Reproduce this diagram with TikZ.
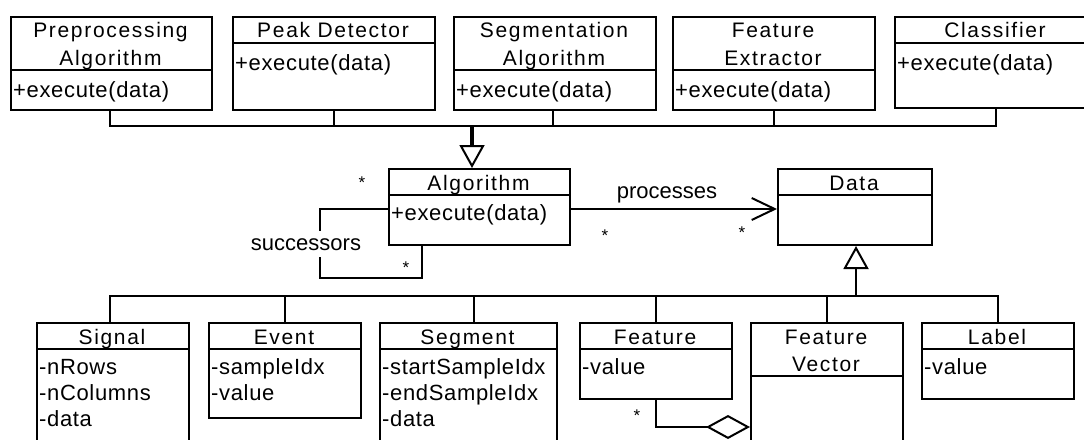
\documentclass[tikz,border=0pt]{standalone}
\usepackage{fontspec}
\setmainfont{Liberation Sans}
\newfontfamily\hdrfont{Liberation Sans}[LetterSpace=8]
\newfontfamily\bodyfont{Liberation Sans}[LetterSpace=3]
\usetikzlibrary{arrows.meta}

\tikzset{
  cls/.style={draw, line width=2pt, rectangle, inner sep=0pt, fill=white},
  div/.style={line width=2pt},
  conn/.style={line width=2pt},
  hdr/.style={font=\hdrfont\fontsize{21}{24}\selectfont, inner sep=0pt, anchor=base},
  attr/.style={font=\bodyfont\fontsize{22}{26}\selectfont, inner sep=0pt, anchor=base west},
  mult/.style={font=\fontsize{17}{18}\selectfont, inner sep=0pt, anchor=north},
  lbl/.style={font=\fontsize{22}{26}\selectfont, inner sep=0pt, anchor=base},
  generalization/.style={-{Triangle[open, length=23pt, width=25pt, line width=2pt]}},
  navigable/.style={-{Straight Barb[length=23pt, width=22pt]}},
  aggregation/.style={-{Diamond[open, length=44pt, width=24pt]}},
}

% class box: name, left, top, right, bottom, y of the header rule
\newcommand\classbox[6]{%
  \node[cls, anchor=north west, minimum width={(#4)-(#2)}, minimum height={(#5)-(#3)}] (#1) at (#2,#3) {};
  \draw[div] (#2,#6) -- (#4,#6);
}

\begin{document}
\begin{tikzpicture}[x=1pt, y=-1pt]
\useasboundingbox (0,0) rectangle (1084,439);
\clip (0,0) rectangle (1084,439);

% ---- algorithm classes ----
\classbox{pp}{10}{16}{211}{109}{70}
\node[hdr] at (110.5,37) {Preprocessing};
\node[hdr] at (110.5,65) {Algorithm};
\node[attr] at (13,97) {+execute(data)};

\classbox{pd}{232}{16}{434}{109}{43}
\node[hdr] at (333,37) {Peak Detector};
\node[attr] at (235,70) {+execute(data)};

\classbox{seg}{453}{16}{655}{109}{70}
\node[hdr] at (554,37) {Segmentation};
\node[hdr] at (554,65) {Algorithm};
\node[attr] at (456,97) {+execute(data)};

\classbox{fe}{672}{16}{874}{109}{70}
\node[hdr] at (773,37) {Feature};
\node[hdr] at (773,65) {Extractor};
\node[attr] at (675,97) {+execute(data)};

\classbox{cl}{894}{16}{1096}{107}{43}
\node[hdr] at (995,37) {Classifier};
\node[attr] at (897,70) {+execute(data)};

% ---- core classes ----
\classbox{alg}{388}{168}{569}{244}{195}
\node[hdr] at (478.5,190) {Algorithm};
\node[attr] at (391,220) {+execute(data)};

\classbox{data}{777}{168}{931}{244}{195}
\node[hdr] at (854,190) {Data};

% ---- data classes ----
\classbox{sig}{36}{322}{188}{470}{349}
\node[hdr] at (112,344) {Signal};
\node[attr] at (39,374.5) {-nRows};
\node[attr] at (39,400.5) {-nColumns};
\node[attr] at (39,426.5) {-data};

\classbox{ev}{208}{322}{360}{417}{349}
\node[hdr] at (284,344) {Event};
\node[attr] at (211,374.5) {-sampleIdx};
\node[attr] at (211,400.5) {-value};

\classbox{sgm}{379}{322}{556}{470}{349}
\node[hdr] at (467.5,344) {Segment};
\node[attr] at (382,374.5) {-startSampleIdx};
\node[attr] at (382,400.5) {-endSampleIdx};
\node[attr] at (382,426.5) {-data};

\classbox{feat}{579}{322}{731}{398}{349}
\node[hdr] at (655,344) {Feature};
\node[attr] at (582,374.5) {-value};

\classbox{fv}{750}{322}{902}{470}{376}
\node[hdr] at (826,344) {Feature};
\node[hdr] at (826,371) {Vector};

\classbox{lab}{921}{322}{1073}{398}{349}
\node[hdr] at (997,344) {Label};
\node[attr] at (924,374.5) {-value};

% ---- helper points ----
\coordinate (topbus) at (0,126);
\coordinate (botbus) at (0,296);
\coordinate (gen) at (472,126);
\coordinate (procy) at (0,209);
\coordinate (loopc) at (320,278);
\coordinate (aggy) at (0,427);

% ---- inheritance from the algorithm classes ----
\draw[conn] ([xshift=-1.5pt]pp.south) |- (cl.south |- topbus) -- (cl.south);
\draw[conn] (pd.south) -- (pd.south |- topbus);
\draw[conn] ([xshift=-2pt]seg.south) -- ([xshift=-2pt]seg.south |- topbus);
\draw[conn] (fe.south) -- (fe.south |- topbus);
\draw[line width=4pt, generalization] (gen) -- (alg.north -| gen);

% ---- successors self-association ----
\draw[conn] (alg.west |- procy) -| (loopc) -| ([xshift=-57.5pt]alg.south);
\node[lbl, fill=white, inner xsep=1pt, inner ysep=7pt] at (306,250) {successors};
\node[mult] at (362,176.5) {*};
\node[mult] at (406,261.5) {*};

% ---- processes association ----
\draw[conn, navigable] (alg.east |- procy) -- (data.west |- procy);
\node[lbl] at (667,198) {processes};
\node[mult] at (605,229.5) {*};
\node[mult] at (742,226.5) {*};

% ---- inheritance to Data ----
\draw[conn] ([xshift=-3pt]sig.north) |- (lab.north |- botbus) -- (lab.north);
\draw[conn] (ev.north) -- (ev.north |- botbus);
\draw[conn] ([xshift=5.5pt]sgm.north) -- ([xshift=5.5pt]sgm.north |- botbus);
\draw[conn] (feat.north) -- (feat.north |- botbus);
\draw[conn] (fv.north) -- (fv.north |- botbus);
\draw[conn, generalization] ([xshift=1pt]data.south |- botbus) -- ([xshift=1pt]data.south);

% ---- aggregation of features ----
\draw[conn, aggregation] (feat.south) |- (fv.west |- aggy);
\node[mult] at (637,410) {*};
\end{tikzpicture}
\end{document}
